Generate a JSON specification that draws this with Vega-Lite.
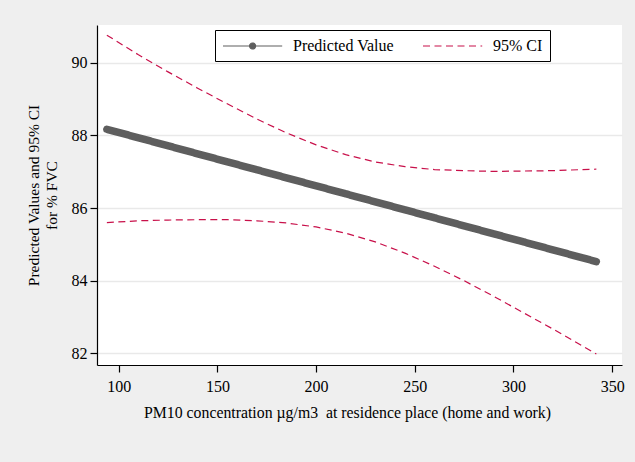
{
  "$schema": "https://vega.github.io/schema/vega-lite/v6.json",
  "autosize": {"type": "none"},
  "width": 525,
  "height": 340,
  "padding": {"left": 97, "top": 25, "right": 13, "bottom": 97},
  "background": "#efefef",
  "config": {
    "view": {"fill": "white", "stroke": null},
    "font": "Liberation Serif",
    "axis": {
      "labelFont": "Liberation Serif",
      "titleFont": "Liberation Serif",
      "labelColor": "black",
      "titleColor": "black",
      "titleFontWeight": "normal",
      "domainColor": "black",
      "domainWidth": 1.2,
      "tickColor": "black",
      "tickWidth": 1.2,
      "tickSize": 7,
      "labelFontSize": 16,
      "titleFontSize": 15.5
    },
    "legend": {
      "labelFont": "Liberation Serif",
      "labelFontSize": 16,
      "labelColor": "black"
    }
  },
  "data": {
    "values": [
      {"x": 94, "series": "Predicted Value", "bound": "fit", "y": 88.17},
      {"x": 110, "series": "Predicted Value", "bound": "fit", "y": 87.935},
      {"x": 125, "series": "Predicted Value", "bound": "fit", "y": 87.715},
      {"x": 140, "series": "Predicted Value", "bound": "fit", "y": 87.494},
      {"x": 155, "series": "Predicted Value", "bound": "fit", "y": 87.274},
      {"x": 170, "series": "Predicted Value", "bound": "fit", "y": 87.054},
      {"x": 185, "series": "Predicted Value", "bound": "fit", "y": 86.833},
      {"x": 200, "series": "Predicted Value", "bound": "fit", "y": 86.613},
      {"x": 215, "series": "Predicted Value", "bound": "fit", "y": 86.393},
      {"x": 230, "series": "Predicted Value", "bound": "fit", "y": 86.172},
      {"x": 245, "series": "Predicted Value", "bound": "fit", "y": 85.952},
      {"x": 260, "series": "Predicted Value", "bound": "fit", "y": 85.732},
      {"x": 275, "series": "Predicted Value", "bound": "fit", "y": 85.511},
      {"x": 290, "series": "Predicted Value", "bound": "fit", "y": 85.291},
      {"x": 305, "series": "Predicted Value", "bound": "fit", "y": 85.071},
      {"x": 320, "series": "Predicted Value", "bound": "fit", "y": 84.85},
      {"x": 335, "series": "Predicted Value", "bound": "fit", "y": 84.63},
      {"x": 342, "series": "Predicted Value", "bound": "fit", "y": 84.527},
      {"x": 94, "series": "95% CI", "bound": "upper", "y": 90.76},
      {"x": 110, "series": "95% CI", "bound": "upper", "y": 90.22},
      {"x": 125, "series": "95% CI", "bound": "upper", "y": 89.75},
      {"x": 140, "series": "95% CI", "bound": "upper", "y": 89.3},
      {"x": 155, "series": "95% CI", "bound": "upper", "y": 88.87},
      {"x": 170, "series": "95% CI", "bound": "upper", "y": 88.45},
      {"x": 185, "series": "95% CI", "bound": "upper", "y": 88.07},
      {"x": 200, "series": "95% CI", "bound": "upper", "y": 87.74},
      {"x": 215, "series": "95% CI", "bound": "upper", "y": 87.47},
      {"x": 230, "series": "95% CI", "bound": "upper", "y": 87.27},
      {"x": 245, "series": "95% CI", "bound": "upper", "y": 87.14},
      {"x": 260, "series": "95% CI", "bound": "upper", "y": 87.06},
      {"x": 275, "series": "95% CI", "bound": "upper", "y": 87.03},
      {"x": 290, "series": "95% CI", "bound": "upper", "y": 87.01},
      {"x": 305, "series": "95% CI", "bound": "upper", "y": 87.02},
      {"x": 320, "series": "95% CI", "bound": "upper", "y": 87.03},
      {"x": 335, "series": "95% CI", "bound": "upper", "y": 87.06},
      {"x": 342, "series": "95% CI", "bound": "upper", "y": 87.07},
      {"x": 94, "series": "95% CI", "bound": "lower", "y": 85.6},
      {"x": 110, "series": "95% CI", "bound": "lower", "y": 85.65},
      {"x": 125, "series": "95% CI", "bound": "lower", "y": 85.67},
      {"x": 140, "series": "95% CI", "bound": "lower", "y": 85.68},
      {"x": 155, "series": "95% CI", "bound": "lower", "y": 85.68},
      {"x": 170, "series": "95% CI", "bound": "lower", "y": 85.65},
      {"x": 185, "series": "95% CI", "bound": "lower", "y": 85.59},
      {"x": 200, "series": "95% CI", "bound": "lower", "y": 85.48},
      {"x": 215, "series": "95% CI", "bound": "lower", "y": 85.31},
      {"x": 230, "series": "95% CI", "bound": "lower", "y": 85.07},
      {"x": 245, "series": "95% CI", "bound": "lower", "y": 84.76},
      {"x": 260, "series": "95% CI", "bound": "lower", "y": 84.4},
      {"x": 275, "series": "95% CI", "bound": "lower", "y": 84.0},
      {"x": 290, "series": "95% CI", "bound": "lower", "y": 83.57},
      {"x": 305, "series": "95% CI", "bound": "lower", "y": 83.12},
      {"x": 320, "series": "95% CI", "bound": "lower", "y": 82.67},
      {"x": 335, "series": "95% CI", "bound": "lower", "y": 82.2},
      {"x": 342, "series": "95% CI", "bound": "lower", "y": 81.98}
    ]
  },
  "encoding": {
    "x": {
      "field": "x",
      "type": "quantitative",
      "scale": {"domain": [89, 355], "nice": false, "zero": false},
      "axis": {
        "values": [100, 150, 200, 250, 300, 350],
        "grid": false,
        "labelPadding": 6,
        "title": "PM10 concentration µg/m3\u00a0 at residence place (home and work)",
        "titleFontSize": 15.8,
        "titleX": 250,
        "titleY": 40
      }
    },
    "y": {
      "field": "y",
      "type": "quantitative",
      "scale": {"domain": [81.68, 91.04], "nice": false, "zero": false},
      "axis": {
        "values": [82, 84, 86, 88, 90],
        "grid": true,
        "gridColor": "#e9e9e9",
        "gridWidth": 1.6,
        "labelPadding": 3,
        "title": ["Predicted Values and 95% CI", "for % FVC"],
        "titleFontSize": 15.5,
        "titleLineHeight": 18,
        "titleX": -56
      }
    },
    "color": {
      "field": "series",
      "type": "nominal",
      "scale": {"domain": ["Predicted Value", "95% CI"], "range": ["#5e5e5e", "#c8104a"]},
      "legend": {
        "title": null,
        "orient": "none",
        "legendX": 118,
        "legendY": 5,
        "direction": "horizontal",
        "columns": 2,
        "columnPadding": 26,
        "padding": 7,
        "symbolType": "stroke",
        "symbolSize": 256,
        "symbolStrokeWidth": 1,
        "symbolOpacity": 1,
        "labelOffset": 53,
        "fillColor": "white",
        "strokeColor": "black",
        "cornerRadius": 0,
        "encode": {
          "symbols": {
            "update": {
              "shape": [
                {"test": "datum.value === 'Predicted Value'", "value": "M-1,0L6.4,0M2.325,0A0.375,0.375,0,1,0,3.075,0A0.375,0.375,0,1,0,2.325,0Z"},
                {"value": "M-1,0L6.4,0"}
              ],
              "fill": [
                {"test": "datum.value === 'Predicted Value'", "value": "#5e5e5e"},
                {"value": "transparent"}
              ],
              "stroke": [
                {"test": "datum.value === 'Predicted Value'", "value": "#000000"},
                {"value": "#c8104a"}
              ],
              "strokeWidth": {"value": 1.2},
              "opacity": {"value": 1},
              "strokeOpacity": {"value": 1}
            }
          }
        }
      }
    },
    "strokeDash": {
      "field": "series",
      "type": "nominal",
      "scale": {"domain": ["Predicted Value", "95% CI"], "range": [[1, 0], [7, 4.5]]}
    },
    "detail": {"field": "bound", "type": "nominal"}
  },
  "layer": [
    {
      "transform": [{"filter": "datum.series === 'Predicted Value'"}],
      "mark": {"type": "line", "strokeWidth": 7.5, "strokeCap": "round", "strokeJoin": "round"}
    },
    {
      "transform": [{"filter": "datum.series === '95% CI'"}],
      "mark": {"type": "line", "strokeWidth": 1.2}
    }
  ]
}
